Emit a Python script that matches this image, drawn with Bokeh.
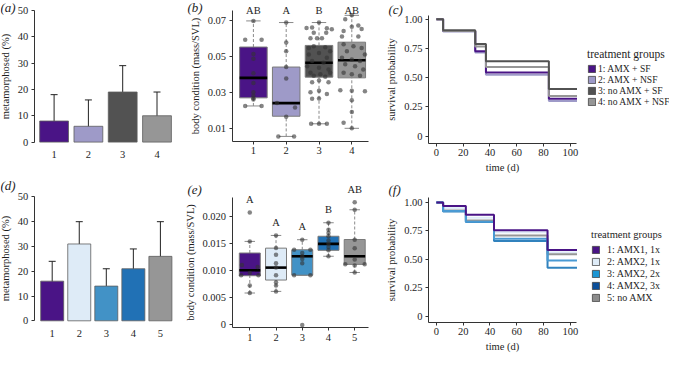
import numpy as np
from bokeh.plotting import figure
from bokeh.models import (Range1d, ColumnDataSource, Label, LabelSet, Legend, LegendItem,
                          Whisker, TeeHead, FixedTicker, CustomJSTickFormatter)
from bokeh.layouts import row, column
from bokeh.embed import file_html
from bokeh.resources import INLINE

# ---------------- data ----------------
# (a) metamorphosis, experiment 1
a_groups = ["1", "2", "3", "4"]
a_pct = [8, 6, 19, 10]
a_lo = [2, 1, 12, 4]
a_hi = [18, 16, 29, 19]

# (d) metamorphosis, experiment 2
d_groups = ["1", "2", "3", "4", "5"]
d_pct = [16, 31, 14, 21, 26]
d_lo = [10, 24, 9, 15, 15]
d_hi = [24, 40, 21, 29, 40]

# (b) body condition, experiment 1 (box statistics + individual points)
b_letters = ["AB", "A", "B", "AB"]
b_q1 = [0.0269, 0.0167, 0.0384, 0.0380]
b_med = [0.0380, 0.0240, 0.0464, 0.0478]
b_q3 = [0.0551, 0.0440, 0.0560, 0.0578]
b_lo = [0.0224, 0.0055, 0.0125, 0.0100]
b_hi = [0.0696, 0.0687, 0.0687, 0.0727]
b_pts1 = [0.0696, 0.0591, 0.0591, 0.0513, 0.0486, 0.0405, 0.0351, 0.0300, 0.0280, 0.0267, 0.0260, 0.0224, 0.0224]
b_jit1 = [0, -0.25, 0.25, 0, 0, 0, 0, 0, 0, 0, 0, -0.25, 0.25]
b_pts2 = [0.0687, 0.0576, 0.0527, 0.0440, 0.0377, 0.0240, 0.0216, 0.0164, 0.0055, 0.0055]
b_jit2 = [0, 0, 0, 0, 0, -0.28, 0.27, 0, -0.24, 0.24]
b_pts3 = [0.0687, 0.0657, 0.0660, 0.0655, 0.0650, 0.0630, 0.0630, 0.0600, 0.0600, 0.0600,
          0.0546, 0.0555, 0.0550, 0.0527, 0.0509, 0.0518, 0.0491, 0.0473, 0.0464, 0.0445,
          0.0436, 0.0427, 0.0409, 0.0400, 0.0409, 0.0391, 0.0386, 0.0355, 0.0365, 0.0355,
          0.0300, 0.0309, 0.0291, 0.0264, 0.0265, 0.0125, 0.0125, 0.0125]
b_jit3 = [0, -0.38, -0.21, 0.24, 0.39, -0.16, 0.22, -0.26, -0.06, 0.09,
          -0.31, -0.16, 0.19, 0.34, -0.31, 0, 0.24, -0.21, 0.14, -0.36,
          0, 0.29, -0.26, 0.04, 0.34, -0.16, 0.19, -0.21, 0, 0.29,
          -0.26, 0, 0.24, -0.21, 0, -0.24, 0, 0.24]
b_pts4 = [0.0727, 0.0705, 0.0670, 0.0640, 0.0663, 0.0651, 0.0609, 0.0609, 0.0567, 0.0555,
          0.0546, 0.0527, 0.0509, 0.0491, 0.0482, 0.0473, 0.0455, 0.0445, 0.0427, 0.0409,
          0.0400, 0.0391, 0.0311, 0.0309, 0.0305, 0.0255, 0.0191, 0.0131, 0.0100]
b_jit4 = [0, -0.2, 0.2, -0.25, 0, 0.3, -0.3, 0.2, -0.25, 0.05,
          0.3, -0.15, 0.4, -0.3, 0, 0.25, -0.2, 0.1, 0.35, -0.25,
          0, 0.25, -0.35, 0, 0.4, 0, 0, -0.25, 0]

# (e) body condition, experiment 2
e_letters = ["A", "A", "A", "B", "AB"]
e_q1 = [0.0091, 0.0083, 0.0092, 0.0138, 0.0112]
e_med = [0.0101, 0.0106, 0.0127, 0.0150, 0.0127]
e_q3 = [0.0133, 0.0142, 0.0139, 0.0164, 0.0158]
e_lo = [0.0059, 0.0062, 0.0092, 0.0127, 0.0097]
e_hi = [0.01545, 0.01655, 0.01576, 0.0189, 0.0213]
e_pts1 = [0.0208, 0.01545, 0.0111, 0.0107, 0.0096, 0.0092, 0.0092, 0.0073, 0.0059]
e_jit1 = [0, 0, -0.3, 0.3, 0, -0.33, 0.33, 0, 0]
e_pts2 = [0.01655, 0.01424, 0.0130, 0.0114, 0.0106, 0.0092, 0.0079, 0.0073, 0.0062]
e_jit2 = [0, 0, 0, 0, 0, 0, 0, 0, 0]
e_pts3 = [0.01576, 0.0139, 0.0139, 0.0133, 0.0127, 0.0122, 0.0114, 0.0092, 0.0092, 0.0]
e_jit3 = [0, -0.31, 0.31, 0, 0, 0, 0, -0.31, 0.31, 0]
e_pts4 = [0.0189, 0.0176, 0.0170, 0.0164, 0.0156, 0.0150, 0.0144, 0.0138, 0.0127]
e_jit4 = [0, 0, 0, 0, 0, 0, 0, 0, 0]
e_pts5 = [0.0227, 0.0213, 0.01576, 0.0142, 0.0121, 0.0112, 0.0112, 0.0110, 0.0097]
e_jit5 = [0, 0, 0, 0, 0, -0.36, 0.38, 0, 0]

# (c) survival, experiment 1
c_times = [0, 5, 29, 37, 84]
c_end = 105
c_labels = ["1: AMX + SF", "2: AMX + NSF", "3: no AMX + SF", "4: no AMX + NSF"]
c_surv1 = [1.0, 0.900, 0.725, 0.544, 0.319]
c_surv2 = [1.0, 0.895, 0.715, 0.524, 0.300]
c_surv3 = [1.0, 0.905, 0.787, 0.641, 0.403]
c_surv4 = [1.0, 0.900, 0.767, 0.591, 0.342]

# (f) survival, experiment 2
f_times = [0, 5, 22, 43, 83]
f_end = 105
f_labels = ["1: AMX1, 1x", "2: AMX2, 1x", "3: AMX2, 2x", "4: AMX2, 3x", "5: no AMX"]
f_surv1 = [1.0, 0.969, 0.892, 0.756, 0.581]
f_surv2 = [1.0, 0.950, 0.865, 0.737, 0.560]
f_surv3 = [1.0, 0.925, 0.830, 0.680, 0.488]
f_surv4 = [1.0, 0.921, 0.828, 0.660, 0.425]
f_surv5 = [1.0, 0.929, 0.841, 0.709, 0.544]

# ---------------- styling ----------------
SERIF = "Liberation Serif"
INK = "#1e1e1e"
FS = "10.5px"
pal4 = ["#4a1486", "#9e9ac8", "#525252", "#969696"]
pal5 = ["#4a1486", "#deebf7", "#4292c6", "#2171b5", "#969696"]
f_line = ["#4a1486", "#deebf7", "#4a9ad3", "#3182bd", "#969696"]
f_leg = ["#4a1486", "#deebf7", "#1c96d4", "#0b4f9a", "#8c8c8c"]

# ---------------- layout geometry (page pixels) ----------------
GEO = {
    "a": dict(box=(8, 8, 182, 177), xcal=(1, 61.6, 4, 164.5), ycal=(0, 149.6, 50, 17.8),
              yaxis_x=41.8, xaxis_y=149.6, ytop=17.8, xright=None),
    "b": dict(box=(190, 8, 202, 177), xcal=(1, 260.9, 4, 359.3), ycal=(0.01, 135.8, 0.07, 27.7),
              yaxis_x=239.5, xaxis_y=148.6, ytop=17.8, xright=376),
    "c": dict(box=(392, 8, 285, 177), xcal=(0, 443.9, 100, 577.8), ycal=(0, 143.6, 1, 26.7),
              yaxis_x=436, xaxis_y=150.5, ytop=22.7, xright=583.7),
    "d": dict(box=(8, 185, 182, 177), xcal=(1, 59.7, 5, 167.9), ycal=(0, 328.3, 50, 204.4),
              yaxis_x=41.8, xaxis_y=328.3, ytop=204.4, xright=None),
    "e": dict(box=(190, 185, 202, 177), xcal=(1, 257.3, 5, 362.2), ycal=(0, 332.4, 0.02, 224.3),
              yaxis_x=239.5, xaxis_y=335.3, ytop=204.6, xright=375.7),
    "f": dict(box=(392, 185, 285, 177), xcal=(0, 443.9, 100, 577.8), ycal=(0, 323.5, 1, 210),
              yaxis_x=436, xaxis_y=329.5, ytop=205, xright=583.7),
}


def lin(v0, p0, v1, p1):
    k = (v1 - v0) / (p1 - p0)
    return lambda pg: v0 + (pg - p0) * k


def panel(key):
    g = GEO[key]
    left, top, w, h = g["box"]
    fx, fy = lin(*g["xcal"]), lin(*g["ycal"])
    p = figure(width=w, height=h, x_range=Range1d(fx(left), fx(left + w)),
               y_range=Range1d(fy(top + h), fy(top)), output_backend="svg",
               toolbar_location=None, min_border=0)
    p.outline_line_color = None
    p.xgrid.visible = False
    p.ygrid.visible = False
    p.background_fill_color = "white"
    p.border_fill_color = "white"
    for ax in (p.xaxis[0], p.yaxis[0]):
        ax.axis_line_color = "#333333"
        ax.major_tick_line_color = "#333333"
        ax.major_tick_out = 3
        ax.major_tick_in = 0
        ax.minor_tick_line_color = None
        ax.major_label_text_font = SERIF
        ax.major_label_text_font_size = FS
        ax.major_label_text_color = INK
        ax.axis_label_text_font = SERIF
        ax.axis_label_text_font_style = "normal"
        ax.axis_label_text_font_size = FS
        ax.axis_label_text_color = INK
        ax.major_label_standoff = 3
        ax.axis_label_standoff = 4
    p.yaxis.fixed_location = fx(g["yaxis_x"])
    p.yaxis.bounds = (fy(g["xaxis_y"]), fy(g["ytop"]))
    p.xaxis.fixed_location = fy(g["xaxis_y"])
    if g["xright"] is not None:
        p.xaxis.bounds = (fx(g["yaxis_x"]), fx(g["xright"]))
    return p, fx, fy


def tag(p, fx, fy, text, page_x, page_y):
    p.add_layout(Label(x=fx(page_x), y=fy(page_y), text=text, text_font=SERIF,
                       text_font_style="italic", text_font_size="13px", text_color=INK,
                       text_align="left", text_baseline="middle"))


def cat_axis(p, groups, line=True):
    n = len(groups)
    p.xaxis.ticker = FixedTicker(ticks=list(range(1, n + 1)))
    p.xaxis.formatter = CustomJSTickFormatter(args=dict(labels=groups),
                                              code="return labels[Math.round(tick) - 1]")
    if not line:
        p.xaxis.axis_line_color = None
        p.xaxis.major_tick_line_color = None
        p.xaxis.major_label_standoff = 6


def bars(p, groups, pct, lo, hi, colors, width):
    x = list(range(1, len(groups) + 1))
    src = ColumnDataSource(dict(x=x, top=pct, lo=lo, hi=hi, color=colors))
    p.vbar(x="x", top="top", width=width, fill_color="color", line_color="#5e5e5e",
           line_width=0.8, source=src)
    p.add_layout(Whisker(base="x", lower="lo", upper="hi", source=src, line_color="#222222",
                         line_width=1,
                         upper_head=TeeHead(size=7, line_color="#222222", line_width=1),
                         lower_head=TeeHead(size=7, line_color="#222222", line_width=1)))
    p.yaxis.ticker = FixedTicker(ticks=[0, 10, 20, 30, 40, 50])
    p.yaxis.axis_label = "metamorphosed (%)"
    cat_axis(p, groups, line=False)


def boxes(p, q1, med, q3, lo, hi, pts, jit, colors, bw, cap):
    xs = np.arange(1, len(q1) + 1, dtype=float)
    q1, med, q3, lo, hi = map(np.array, (q1, med, q3, lo, hi))
    p.segment(x0=xs, y0=q3, x1=xs, y1=hi, line_color="#8a8a8a", line_width=1, line_dash="3 2")
    p.segment(x0=xs, y0=lo, x1=xs, y1=q1, line_color="#8a8a8a", line_width=1, line_dash="3 2")
    p.segment(x0=xs - cap, y0=hi, x1=xs + cap, y1=hi, line_color="#8a8a8a", line_width=1)
    p.segment(x0=xs - cap, y0=lo, x1=xs + cap, y1=lo, line_color="#8a8a8a", line_width=1)
    p.vbar(x=xs, bottom=q1, top=q3, width=bw, fill_color=colors, line_color="#7a7a7a",
           line_width=1)
    p.segment(x0=xs - bw / 2, y0=med, x1=xs + bw / 2, y1=med, line_color="#000000",
              line_width=2.6)
    px, py = [], []
    for i, (vals, js) in enumerate(zip(pts, jit)):
        for v, j in zip(vals, js):
            px.append(i + 1 + j)
            py.append(v)
    p.scatter(x=px, y=py, size=4.5, fill_color="#333333", line_color=None, fill_alpha=0.6)
    p.yaxis.axis_label = "body condition (mass/SVL)"


def letters(p, ys, texts):
    p.add_layout(LabelSet(x="x", y="y", text="t", source=ColumnDataSource(dict(
        x=list(range(1, len(texts) + 1)), y=ys, t=texts)),
        text_font=SERIF, text_font_size=FS, text_color=INK, text_align="center",
        text_baseline="middle"))


def survival(p, times, end, curves, line_colors, leg_colors, labels, loc, standoff, lh,
             title_fs, label_fs):
    for vals, col in zip(curves, line_colors):
        p.step(x=list(times) + [end], y=list(vals) + [vals[-1]], mode="after",
               line_color=col, line_width=2)
    items = []
    for lab, col in zip(labels, leg_colors):
        # legend swatch only: a single undrawn (NaN) square carrying the fill style
        r = p.quad(left=[np.nan], right=[np.nan], top=[np.nan], bottom=[np.nan],
                   fill_color=col, line_color="#444444", line_width=0.8)
        items.append(LegendItem(label=lab, renderers=[r]))
    leg = Legend(items=items, location=loc, title="treatment groups",
                 glyph_width=9, glyph_height=9, label_height=lh, label_standoff=standoff,
                 spacing=0, padding=0, margin=0, border_line_color=None,
                 background_fill_alpha=0, title_standoff=3,
                 label_text_font=SERIF, label_text_font_size=label_fs, label_text_color=INK,
                 title_text_font=SERIF, title_text_font_size=title_fs, title_text_color=INK,
                 title_text_font_style="normal")
    p.add_layout(leg)
    p.xaxis.ticker = FixedTicker(ticks=[0, 20, 40, 60, 80, 100])
    p.yaxis.ticker = FixedTicker(ticks=[0, 0.25, 0.5, 0.75, 1.0])
    p.yaxis.formatter = CustomJSTickFormatter(code="return tick == 0 ? '0' : tick.toFixed(2)")
    p.yaxis.axis_label = "survival probability"
    p.xaxis.axis_label = "time (d)"
    p.xaxis.axis_label_standoff = 2


# ---------------- top row ----------------
pa, fxa, fya = panel("a")
bars(pa, a_groups, a_pct, a_lo, a_hi, pal4, 0.84)
tag(pa, fxa, fya, "(a)", 8, 14.5)

pb, fxb, fyb = panel("b")
boxes(pb, b_q1, b_med, b_q3, b_lo, b_hi, [b_pts1, b_pts2, b_pts3, b_pts4],
      [b_jit1, b_jit2, b_jit3, b_jit4], pal4, 0.84, 0.22)
cat_axis(pb, a_groups)
pb.yaxis.ticker = FixedTicker(ticks=[0.01, 0.03, 0.05, 0.07])
pb.yaxis.formatter = CustomJSTickFormatter(code="return tick.toFixed(2)")
letters(pb, [fyb(GEO["b"]["ytop"])] * 4, b_letters)
tag(pb, fxb, fyb, "(b)", 195, 14.5)

pc, fxc, fyc = panel("c")
survival(pc, c_times, c_end, [c_surv2, c_surv1, c_surv4, c_surv3],
         [pal4[1], pal4[0], pal4[3], pal4[2]], pal4, c_labels, (203, 70), 2, 11,
         "11.5px", "9.6px")
tag(pc, fxc, fyc, "(c)", 396, 17)

# ---------------- bottom row ----------------
pd, fxd, fyd = panel("d")
bars(pd, d_groups, d_pct, d_lo, d_hi, pal5, 0.85)
tag(pd, fxd, fyd, "(d)", 8, 193)

pe, fxe, fye = panel("e")
e_pts = [e_pts1, e_pts2, e_pts3, e_pts4, e_pts5]
boxes(pe, e_q1, e_med, e_q3, e_lo, e_hi, e_pts,
      [e_jit1, e_jit2, e_jit3, e_jit4, e_jit5], pal5, 0.8, 0.2)
cat_axis(pe, d_groups)
pe.yaxis.ticker = FixedTicker(ticks=[0, 0.005, 0.01, 0.015, 0.02])
pe.yaxis.formatter = CustomJSTickFormatter(code="return tick == 0 ? '0' : tick.toFixed(3)")
letters(pe, [max(v) + 0.0024 for v in e_pts], e_letters)
tag(pe, fxe, fye, "(e)", 195, 197)

pf, fxf, fyf = panel("f")
survival(pf, f_times, f_end, [f_surv2, f_surv5, f_surv4, f_surv3, f_surv1],
         [f_line[1], f_line[4], f_line[3], f_line[2], f_line[0]], f_leg, f_labels,
         (207, 51), 7, 12, "10.5px", "10px")
tag(pf, fxf, fyf, "(f)", 396, 197)

layout = column(row(pa, pb, pc), row(pd, pe, pf))
open("out.html", "w").write(file_html(layout, INLINE))
